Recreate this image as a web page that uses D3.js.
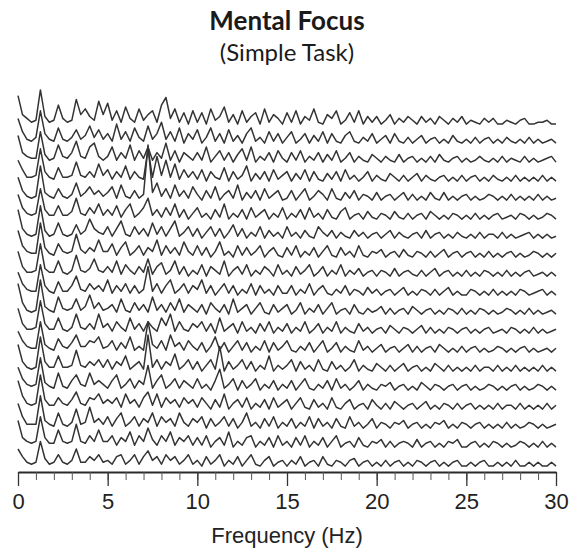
<!DOCTYPE html>
<html><head><meta charset="utf-8">
<script src="https://cdn.jsdelivr.net/npm/d3@7"></script>
<style>body{margin:0;background:#fff} svg{display:block}</style>
</head><body>
<svg id="c" width="572" height="557"></svg>
<script>
// frequency axis
const xTicks = [0,5,10,15,20,25,30];
const minorTicks = [0,1,2,3,4,5,6,7,8,9,10,11,12,13,14,15,16,17,18,19,20,21,22,23,24,25,26,27,28,29,30];
const freqStep = 0.25; // Hz between samples, 121 samples per spectrum (0..30 Hz)

// spectra, top to bottom (amplitude in tenths of a row spacing)
const trace00 = [16,6,4,2,3,19,5,2,3,11,4,2,3,14,6,9,5,3,13,6, 12,3,8,2,10,4,2,9,3,6,8,2,11,15,4,9,2,7,1,8, 2,7,1,9,3,5,10,2,6,1,8,2,5,7,1,9,2,6,4,1, 7,2,8,1,5,3,9,2,1,6,4,8,1,3,7,2,8,1,5,2, 5,1,3,6,1,4,2,5,3,1,5,2,4,1,5,3,1,4,2,5, 1,3,2,1,4,2,4,1,1,3,2,1,3,4,1,1,2,2,3,1,1];
const trace01 = [14,7,3,2,4,18,6,3,2,9,3,2,4,8,3,5,10,4,8,3, 6,2,11,3,7,2,9,4,2,10,3,6,12,3,7,2,9,1,6,3, 8,1,4,9,2,6,1,8,2,5,1,6,9,2,4,1,7,2,6,1, 4,7,1,3,6,1,5,2,7,1,6,2,1,5,7,2,1,4,2,6, 1,3,5,1,6,2,1,4,1,3,5,1,3,4,1,3,1,5,2,1, 3,1,4,1,3,4,1,3,1,4,2,1,3,1,4,1,3,1,2,3,1];
const trace02 = [15,6,4,3,3,17,5,2,3,10,4,3,6,12,4,3,9,11,4,2, 4,9,2,6,3,10,2,7,3,9,2,6,3,11,2,7,1,6,4,2, 6,2,9,1,4,7,2,6,1,5,8,2,9,1,4,2,6,1,7,3, 1,6,2,7,1,4,2,6,1,5,2,7,1,3,6,1,4,2,1,5, 3,1,4,2,1,5,1,3,4,1,3,1,4,1,5,2,1,3,4,1, 3,1,2,4,2,1,3,1,4,1,3,2,1,4,1,3,1,2,3,4,1];
const trace03 = [12,7,3,3,4,18,6,3,2,8,3,3,4,11,4,3,6,3,10,4, 7,2,6,3,9,2,6,3,2,18,3,14,4,12,3,10,2,7,3,6, 2,7,1,6,3,2,8,1,6,2,4,9,1,5,2,6,1,7,2,4, 6,1,5,2,7,1,6,2,1,5,2,6,1,7,2,4,1,3,6,1, 4,2,1,5,3,1,4,1,3,5,1,4,2,1,3,4,1,3,1,4, 1,3,4,1,3,1,4,2,1,3,1,4,1,3,1,3,1,4,1,3,1];
const trace04 = [13,6,3,2,3,19,5,3,2,7,3,2,4,10,3,5,8,4,6,3, 5,8,2,9,3,2,6,2,4,30,5,10,3,7,2,9,3,6,2,8, 4,1,6,2,8,1,4,6,2,9,1,5,2,6,1,7,2,4,6,1, 2,6,1,4,7,1,3,6,4,1,7,2,1,5,2,6,1,4,3,1, 5,1,3,4,1,3,5,1,4,1,3,1,5,2,1,5,1,3,1,3, 4,1,3,1,2,4,3,1,3,1,4,1,3,1,3,1,4,1,3,1,2];
const trace05 = [14,7,4,3,4,17,6,3,3,8,3,3,5,12,4,3,7,4,9,3, 6,3,8,2,6,9,2,4,7,12,3,6,2,7,3,9,2,6,1,4, 7,2,4,1,6,2,9,1,4,2,6,1,7,2,4,6,1,4,2,7, 1,4,2,6,1,7,2,4,1,6,2,1,5,7,1,3,4,1,5,2, 1,4,3,1,5,2,1,4,1,3,4,1,5,3,1,3,1,4,3,1, 3,1,4,1,3,1,3,4,1,2,3,1,4,3,1,3,1,2,4,3,1];
const trace06 = [16,6,3,2,3,18,5,2,3,9,3,2,3,8,3,5,11,6,4,3, 7,2,6,10,3,2,7,3,6,2,9,3,7,2,6,10,2,4,7,2, 6,1,4,7,2,6,1,4,8,2,6,1,4,2,7,1,5,2,4,1, 7,2,4,1,5,2,1,7,4,2,5,1,4,2,1,5,2,4,1,3, 4,1,3,5,1,4,2,1,3,4,1,5,1,3,4,1,3,1,4,2, 1,3,1,4,1,3,3,1,4,1,3,1,2,3,4,1,3,1,3,1,2];
const trace07 = [15,7,4,3,3,19,6,3,2,8,4,3,4,13,5,3,6,4,10,4, 4,8,2,6,9,2,4,7,2,6,4,10,2,7,3,6,2,9,4,2, 7,2,6,1,4,9,2,4,1,7,2,6,2,4,7,1,4,6,2,1, 6,2,7,1,4,2,6,1,4,7,2,1,6,2,4,1,7,2,1,4, 3,5,1,3,4,1,5,2,1,4,3,1,4,1,3,5,1,3,4,1, 3,4,1,3,1,4,1,3,1,3,4,1,3,1,2,4,3,1,3,1,3];
const trace08 = [14,6,3,3,4,18,5,3,3,9,3,2,4,12,4,3,5,10,4,3, 6,3,9,2,7,4,2,6,3,10,2,6,8,2,4,9,2,6,1,4, 2,7,1,6,4,2,9,1,4,6,2,7,1,4,2,6,4,1,7,2, 4,1,6,2,4,7,1,3,6,1,4,2,7,1,4,2,5,1,3,4, 1,4,3,1,5,1,3,4,2,1,4,1,3,5,1,3,4,1,3,1, 4,1,3,1,4,3,1,3,1,4,1,3,1,3,4,1,2,3,1,3,1];
const trace09 = [13,7,4,3,3,17,6,3,2,8,3,3,6,11,4,3,7,4,6,3, 9,2,6,3,7,2,6,2,4,16,3,7,2,6,9,2,4,7,2,6, 4,9,2,6,1,4,7,2,6,1,4,2,7,1,6,2,4,1,6,2, 2,6,1,4,2,7,1,4,6,2,1,4,2,6,1,4,3,1,5,2, 4,1,3,4,1,3,5,1,3,1,4,3,1,4,1,3,5,1,3,1, 1,4,3,1,3,1,4,1,3,1,3,1,4,3,1,2,3,4,1,3,1];
const trace10 = [17,7,3,2,3,19,5,3,2,10,4,3,4,9,3,5,11,4,7,3, 4,6,2,9,3,2,7,3,6,2,10,3,6,2,7,3,9,2,6,4, 2,6,1,7,4,2,6,1,9,2,4,6,1,4,7,2,1,6,2,4, 6,1,3,7,1,4,2,6,1,4,7,1,3,4,1,6,2,1,4,2, 3,5,1,4,1,3,4,1,5,3,1,3,4,1,3,1,4,3,1,4, 1,3,1,4,3,1,3,1,2,4,3,1,3,1,4,1,3,1,2,3,1];
const trace11 = [14,6,3,3,4,18,6,3,3,9,3,2,4,11,4,3,6,3,11,4, 6,2,7,4,2,9,3,6,2,7,4,2,9,5,11,2,7,3,2,6, 4,7,2,6,1,9,2,4,6,1,7,2,4,1,6,2,7,1,4,2, 6,1,4,2,7,1,3,6,1,4,2,7,1,4,2,1,6,2,4,1, 3,4,1,5,3,1,4,3,1,3,5,1,4,1,3,1,4,3,1,3, 4,1,3,1,3,4,1,2,3,1,4,3,1,3,1,4,1,3,1,2,3];
const trace12 = [12,7,4,3,3,17,5,3,2,8,4,3,6,10,4,4,7,6,9,3, 4,7,2,6,3,9,2,4,2,17,5,3,7,2,10,4,6,2,7,4, 2,6,1,4,9,2,6,1,4,7,2,6,1,4,2,7,1,6,2,4, 7,2,1,4,2,6,1,4,7,1,3,6,1,4,2,1,7,2,4,1, 3,5,1,3,4,1,3,5,1,4,1,3,4,1,5,3,1,3,1,4, 1,3,4,1,3,1,2,4,3,1,3,1,3,4,1,3,1,2,3,1,3];
const trace13 = [15,6,3,2,3,19,6,3,3,9,3,3,4,12,4,3,6,4,7,3, 7,2,6,4,9,2,4,6,2,20,3,7,2,6,4,10,2,4,7,2, 6,1,4,7,2,14,1,6,2,4,7,2,6,1,4,2,9,1,4,2, 4,7,1,6,2,4,1,7,2,1,6,2,4,1,3,7,1,4,2,1, 5,3,1,4,1,3,5,1,3,4,1,3,1,5,3,1,4,1,3,1, 3,1,4,1,3,3,1,4,1,3,1,4,1,3,1,3,1,4,1,3,1];
const trace14 = [13,7,4,3,4,18,5,3,2,10,3,2,6,9,4,3,10,4,6,4, 2,6,9,2,4,7,2,6,4,14,2,6,9,2,4,7,2,6,4,2, 7,2,4,1,6,12,2,4,7,1,6,2,4,7,1,4,2,6,1,4, 2,6,1,4,7,2,1,4,2,6,1,7,2,4,1,3,6,1,4,2, 1,4,3,5,1,3,4,1,3,1,5,3,1,4,3,1,3,4,1,3, 4,1,3,1,2,4,3,1,3,1,3,4,1,3,1,2,4,3,1,3,1];
const trace15 = [16,8,4,3,4,19,6,3,3,7,4,3,6,10,4,3,7,6,9,4, 6,4,7,2,9,4,6,2,7,10,3,9,2,7,4,6,2,7,4,6, 2,7,4,1,6,2,9,1,4,6,2,7,1,4,2,6,1,7,2,4, 6,1,4,7,2,1,6,2,4,1,7,2,1,4,6,1,3,4,1,6, 3,1,4,1,5,3,1,3,4,1,3,5,1,3,1,4,3,1,4,1, 3,4,1,3,1,3,1,4,1,3,3,1,4,1,3,1,3,1,4,1,3];
const trace16 = [14,7,3,3,3,18,5,3,2,9,3,2,4,11,3,4,12,4,6,3, 7,2,6,9,2,4,7,2,6,4,9,2,7,4,6,2,9,4,2,6, 4,7,1,6,2,4,7,2,6,1,4,9,2,4,1,6,2,7,1,4, 2,6,1,4,2,7,1,6,2,4,1,6,2,1,7,2,4,1,3,6, 1,4,3,1,4,3,5,1,3,4,1,3,1,4,3,5,1,3,1,4, 3,1,3,4,1,3,1,3,1,4,1,3,1,2,4,3,1,3,1,2,3];
const trace17 = [15,6,4,3,4,17,6,3,3,10,4,3,4,13,4,3,7,4,10,4, 4,7,2,6,4,9,2,7,4,11,5,2,7,4,9,2,6,4,7,2, 6,2,7,1,4,6,2,9,1,4,2,6,7,1,4,2,6,1,7,2, 4,1,6,2,7,1,4,2,6,1,4,7,1,3,4,1,6,2,1,4, 3,5,1,4,1,3,4,3,1,5,1,3,4,1,3,1,4,3,5,1, 1,3,4,1,3,1,4,3,1,3,1,2,4,3,1,3,1,4,1,3,1];
const trace18 = [10,6,3,2,3,14,5,2,3,7,3,2,4,10,3,3,6,4,7,3, 4,2,6,7,2,4,7,2,6,9,4,6,2,7,4,6,2,4,7,2, 4,1,6,2,4,7,1,4,2,6,1,4,7,2,1,4,6,1,3,4, 1,4,2,6,1,3,4,1,6,2,1,4,3,1,4,5,1,3,4,1, 3,1,4,1,3,4,1,3,1,4,3,1,3,4,1,3,1,3,4,1, 1,3,1,3,4,1,1,3,1,3,1,4,1,1,3,1,3,1,1,3,1];

const traces = [trace00,trace01,trace02,trace03,trace04,trace05,trace06,trace07,trace08,trace09,
                trace10,trace11,trace12,trace13,trace14,trace15,trace16,trace17,trace18];
const rowStep = 10; // amplitude units between stacked rows

const svg = d3.select("#c");
const x = d3.scaleLinear().domain([0,30]).range([18,556]);
const y = d3.scaleLinear().domain([0,(traces.length-1)*rowStep]).range([468,126]);

const g = svg.append("g");
traces.forEach((t,k)=>{
  const off = (traces.length-1-k)*rowStep;
  const line = d3.line().x((d,i)=>x(i*freqStep)).y(d=>y(off+d));
  g.append("path").datum(t).attr("d", line)
    .attr("fill","none").attr("stroke","#333").attr("stroke-width",1.5)
    .attr("stroke-linejoin","round");
});

const axisY = 472;
const minor = d3.axisBottom(x).tickValues(minorTicks).tickSize(8).tickSizeOuter(0).tickFormat("");
const major = d3.axisBottom(x).tickValues(xTicks).tickSize(14).tickSizeOuter(0).tickPadding(7).tickFormat(d3.format("d"));
const ga = svg.append("g").attr("transform",`translate(0,${axisY})`).call(minor);
ga.select(".domain").attr("stroke","#2a2a2a").attr("stroke-width",2);
ga.selectAll(".tick line").attr("stroke","#555").attr("stroke-width",1);
const gb = svg.append("g").attr("transform",`translate(0,${axisY})`).call(major);
gb.select(".domain").remove();
gb.selectAll(".tick line").attr("stroke","#333").attr("stroke-width",1.3);
gb.selectAll(".tick text").attr("font-family","'Liberation Sans', Arial, sans-serif")
  .attr("font-size",22).attr("fill","#222");

svg.append("text").attr("x",287).attr("y",543).attr("text-anchor","middle")
  .attr("font-family","'Liberation Sans', Arial, sans-serif").attr("font-size",22).attr("fill","#222")
  .text("Frequency (Hz)");

svg.append("text").attr("x",287).attr("y",30).attr("text-anchor","middle")
  .attr("font-family","Lato, 'Open Sans', sans-serif").attr("font-weight","bold").attr("font-size",26).attr("fill","#1a1a1a")
  .text("Mental Focus");
svg.append("text").attr("x",287).attr("y",61).attr("text-anchor","middle")
  .attr("font-family","Lato, 'Open Sans', sans-serif").attr("font-size",24).attr("fill","#1a1a1a")
  .text("(Simple Task)");
</script>
</body></html>
